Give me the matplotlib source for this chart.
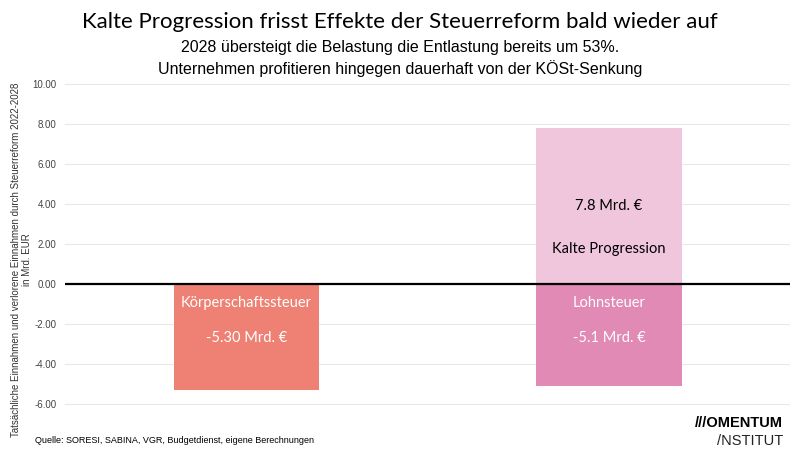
import matplotlib
matplotlib.use("Agg")
import matplotlib.pyplot as plt

categories = ["Körperschaftssteuer", "Lohnsteuer"]
entlastung = [-5.30, -5.1]
kalte_progression = [0, 7.8]
entlastung_labels = ["-5.30 Mrd. €", "-5.1 Mrd. €"]
yticks = [-6, -4, -2, 0, 2, 4, 6, 8, 10]

fig = plt.figure(figsize=(8, 4.57), dpi=100)
ax = fig.add_axes([0.081, 0.107, 0.907, 0.718])

x = [0, 1]
neg_colors = ["#ee8173", "#e08ab5"]
ax.bar(x, entlastung, width=0.4, color=neg_colors, zorder=2)
ax.bar(x[1], kalte_progression[1], width=0.4, color="#f0c6dc", zorder=2)

for i in x:
    ax.text(i, -0.95, categories[i], ha="center", va="center", color="white",
            fontsize=10.5, family="Lato", zorder=3)
    ax.text(i, -2.7, entlastung_labels[i], ha="center", va="center", color="white",
            fontsize=10.5, family="Lato", zorder=3)
ax.text(1, 3.9, "7.8 Mrd. €", ha="center", va="center", color="black",
        fontsize=10.5, family="Lato", zorder=3)
ax.text(1, 1.75, "Kalte Progression", ha="center", va="center", color="black",
        fontsize=10.5, family="Lato", zorder=3)

ax.axhline(0, color="black", lw=1.6, zorder=4)
ax.set_xlim(-0.5, 1.5)
ax.set_ylim(-6.2, 10.2)
ax.set_yticks(yticks)
ax.set_yticklabels([f"{v:.2f}" for v in yticks], family="Liberation Sans", fontsize=7, color="#444444")
ax.set_xticks([])
ax.grid(axis="y", color="#e8e8e8", lw=0.8, zorder=0)
for s in ax.spines.values():
    s.set_visible(False)
ax.tick_params(axis="y", length=0, pad=6)

fig.text(0.027, 0.432, "Tatsächliche Einnahmen und verlorene Einnahmen durch Steuerreform 2022-2028\nin Mrd. EUR",
         rotation=90, ha="center", va="center", fontsize=7, family="Liberation Sans", color="#333333")

fig.text(0.5, 0.952, "Kalte Progression frisst Effekte der Steuerreform bald wieder auf",
         ha="center", va="center", fontsize=16, family="Lato")
fig.text(0.5, 0.895, "2028 übersteigt die Belastung die Entlastung bereits um 53%.",
         ha="center", va="center", fontsize=11.5, family="Liberation Sans")
fig.text(0.5, 0.85, "Unternehmen profitieren hingegen dauerhaft von der KÖSt-Senkung",
         ha="center", va="center", fontsize=11.5, family="Liberation Sans")

fig.text(0.044, 0.037, "Quelle: SORESI, SABINA, VGR, Budgetdienst, eigene Berechnungen",
         ha="left", va="center", fontsize=6.5, family="Liberation Sans")
fig.text(0.979, 0.074, "///OMENTUM", ha="right", va="center", fontsize=10.5,
         fontweight="bold", family="Liberation Sans")
fig.text(0.979, 0.035, "/NSTITUT", ha="right", va="center", fontsize=10.5,
         family="Liberation Sans", color="#222222")

fig.savefig("out.png", dpi=100)
